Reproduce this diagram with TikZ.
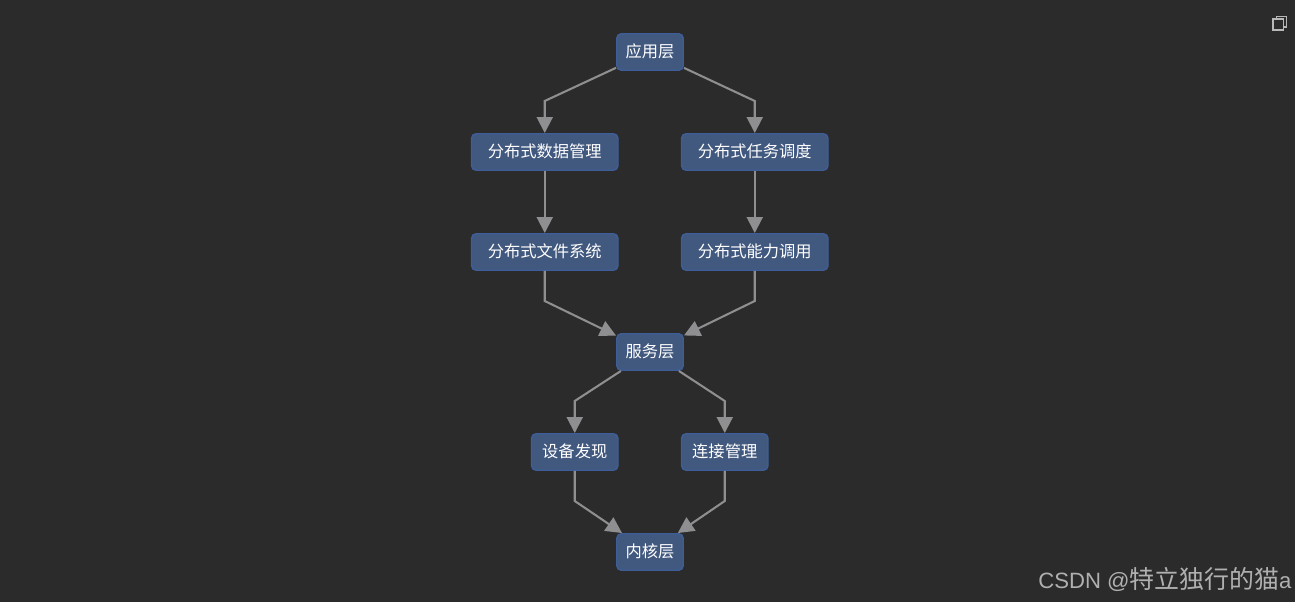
\documentclass[tikz,border=0pt]{standalone}
\usepackage{fontspec}
\setmainfont{Noto Sans CJK SC}
\newfontfamily\latinwm{Liberation Sans}
\usetikzlibrary{arrows.meta}
\definecolor{bgc}{HTML}{2B2B2B}
\definecolor{boxfill}{HTML}{41587F}
\definecolor{boxline}{HTML}{3F5E98}
\definecolor{edgec}{HTML}{8F8F91}
\definecolor{wmc}{HTML}{B0B0B0}
\definecolor{iconc}{HTML}{B8B8B8}
\tikzset{
  box/.style={draw=boxline,fill=boxfill,line width=1.1pt,rounded corners=3.5pt,text=white,
    font=\fontsize{12.2pt}{14pt}\selectfont,inner sep=0pt,text height=10.5pt,text depth=2.4pt,
    minimum height=36.5*0.75pt,anchor=center},
  small/.style={box,minimum width=66.5*0.75pt},
  mid/.style={box,minimum width=86.5*0.75pt},
  wide/.style={box,minimum width=146.5*0.75pt},
  edge/.style={draw=edgec,line width=1.55pt,line join=miter,-{Triangle[length=12pt,width=12pt]}},
  iconline/.style={draw=iconc,line width=1.2pt}
}
\begin{document}
\begin{tikzpicture}[x=0.75pt,y=-0.75pt]
\useasboundingbox[fill=bgc] (0,0) rectangle (1295,602);
\node[small] (app) at (650,52) {应用层};
\node[wide] (data) at (544.75,152) {分布式数据管理};
\node[wide] (task) at (754.75,152) {分布式任务调度};
\node[wide] (file) at (544.75,252) {分布式文件系统};
\node[wide] (cap) at (754.75,252) {分布式能力调用};
\node[small] (svc) at (650,352) {服务层};
\node[mid] (disc) at (574.75,452) {设备发现};
\node[mid] (conn) at (724.75,452) {连接管理};
\node[small] (kern) at (650,552) {内核层};
\coordinate (b1) at (544.75,101);
\coordinate (b2) at (754.75,101);
\coordinate (b3) at (544.75,301);
\coordinate (b4) at (754.75,301);
\coordinate (b5) at (574.75,401);
\coordinate (b6) at (724.75,401);
\coordinate (b7) at (574.75,501);
\coordinate (b8) at (724.75,501);
\draw[edge] (app) -- (b1) -- (data.north);
\draw[edge] (app) -- (b2) -- (task.north);
\draw[edge] (data) -- (file);
\draw[edge] (task) -- (cap);
\draw[edge] (file.south) -- (b3) -- (svc);
\draw[edge] (cap.south) -- (b4) -- (svc);
\draw[edge] (svc) -- (b5) -- (disc.north);
\draw[edge] (svc) -- (b6) -- (conn.north);
\draw[edge] (disc.south) -- (b7) -- (kern);
\draw[edge] (conn.south) -- (b8) -- (kern);
\draw[iconline] (1273,19) rectangle (1283.5,30);
\draw[iconline] (1276.5,19) -- (1276.5,16.5) -- (1286.5,16.5) -- (1286.5,27) -- (1283.5,27);
\node[anchor=base west,inner sep=0pt,text=wmc,font=\fontsize{18.7pt}{20pt}\selectfont] (wm) at (1038,588) {{\latinwm\fontsize{16.6pt}{20pt}\selectfont CSDN @}特立独行的猫{\latinwm\fontsize{16.6pt}{20pt}\selectfont a}};
\end{tikzpicture}
\end{document}
